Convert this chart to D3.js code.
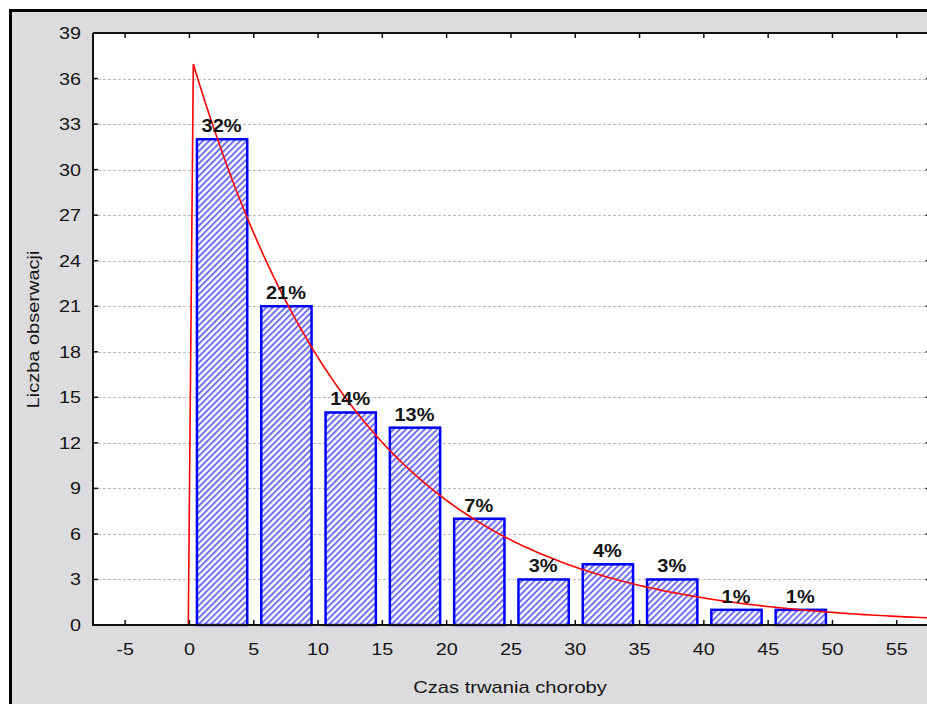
<!DOCTYPE html>
<html>
<head>
<meta charset="utf-8">
<script src="https://cdn.jsdelivr.net/npm/d3@7"></script>
<style>
  html, body { margin: 0; padding: 0; background: #fff; overflow: hidden; }
  svg { display: block; font-family: 'Liberation Sans', Arial, sans-serif; }
</style>
</head>
<body>
<svg id="chart" width="927" height="704"></svg>
<script>
// histogram bins (Czas trwania choroby) and counts
const binStarts = [0, 5, 10, 15, 20, 25, 30, 35, 40, 45];
const binWidth = 5;
const counts = [32, 21, 14, 13, 7, 3, 4, 3, 1, 1];
const percentLabels = ['32%', '21%', '14%', '13%', '7%', '3%', '4%', '3%', '1%', '1%'];
const xTicks = [-5, 0, 5, 10, 15, 20, 25, 30, 35, 40, 45, 50, 55];
const yTicks = [0, 3, 6, 9, 12, 15, 18, 21, 24, 27, 30, 33, 36, 39];
// fitted exponential distribution (rate)
const expLambda = 0.0764;

const svg = d3.select('#chart');

// text is drawn a bit wider than the font, like the original
function addText(g, tx, ty, str, size, sx, anchor, weight) {
  return g.append('text')
    .attr('transform', `translate(${tx},${ty}) scale(${sx},1)`)
    .attr('text-anchor', anchor || 'middle')
    .style('font-size', `${size}px`)
    .style('font-weight', weight || 'normal')
    .attr('fill', '#151515')
    .text(str);
}

// outer frame
svg.append('rect')
  .attr('x', 10.5).attr('y', 10.5)
  .attr('width', 1100).attr('height', 900)
  .attr('fill', '#dcdcde')
  .attr('stroke', '#000')
  .attr('stroke-width', 3);

const plot = { left: 93, top: 33, bottom: 625 };

const x = d3.scaleLinear()
  .domain([-7.5, 57.65])
  .range([plot.left, plot.left + 65.15 * 12.86]);

const y = d3.scaleLinear()
  .domain([0, 39])
  .range([plot.bottom, plot.top]);

const right = x.range()[1];

// plot background
svg.append('rect')
  .attr('x', plot.left).attr('y', plot.top)
  .attr('width', right - plot.left).attr('height', plot.bottom - plot.top)
  .attr('fill', '#fff');

// hatch pattern
const defs = svg.append('defs');
const pat = defs.append('pattern')
  .attr('id', 'hatch')
  .attr('patternUnits', 'userSpaceOnUse')
  .attr('width', 4.4).attr('height', 4.4)
  .attr('patternTransform', 'rotate(45)');
pat.append('rect').attr('width', 4.4).attr('height', 4.4).attr('fill', '#fff');
pat.append('line')
  .attr('x1', 1.1).attr('y1', 0).attr('x2', 1.1).attr('y2', 4.4)
  .attr('stroke', '#6060f4')
  .attr('stroke-width', 1.8);

// gridlines
svg.append('g')
  .selectAll('line')
  .data(yTicks.filter(d => d > 0 && d < 39))
  .enter()
  .append('line')
  .attr('x1', plot.left).attr('x2', right)
  .attr('y1', d => Math.round(y(d)) + 0.5).attr('y2', d => Math.round(y(d)) + 0.5)
  .attr('stroke', '#b9b9b9')
  .attr('stroke-dasharray', '3,2');

// bars
svg.append('g')
  .selectAll('rect')
  .data(counts)
  .enter()
  .append('rect')
  .attr('x', (d, i) => x(binStarts[i]) + 7.5)
  .attr('y', d => y(d))
  .attr('width', (d, i) => x(binStarts[i] + binWidth) - x(binStarts[i]) - 14)
  .attr('height', d => y(0) - y(d))
  .attr('fill', 'url(#hatch)')
  .attr('stroke', '#0000ff')
  .attr('stroke-width', 2.5);

// fitted curve
const total = d3.sum(counts);
const curvePts = d3.range(-7.5, 57.7, 0.39)
  .map(v => [v, v < 0 ? 0 : total * binWidth * expLambda * Math.exp(-expLambda * v)]);
svg.append('path')
  .datum(curvePts)
  .attr('d', d3.line().x(d => x(d[0])).y(d => y(d[1])))
  .attr('fill', 'none')
  .attr('stroke', '#ff0000')
  .attr('stroke-width', 1.6);

// percent labels
const pctG = svg.append('g');
counts.forEach((d, i) => {
  addText(pctG, x(binStarts[i] + binWidth / 2), y(d) - 7, percentLabels[i], 18.5, 1.08, 'middle', 'bold');
});

// axes frame lines
const axisG = svg.append('g').attr('stroke', '#111').attr('stroke-width', 2);
axisG.append('line').attr('x1', plot.left).attr('x2', plot.left).attr('y1', plot.top).attr('y2', plot.bottom + 1);
axisG.append('line').attr('x1', right).attr('x2', right).attr('y1', plot.top).attr('y2', plot.bottom + 1);
axisG.append('line').attr('x1', plot.left).attr('x2', right).attr('y1', plot.top).attr('y2', plot.top);
axisG.append('line').attr('x1', plot.left).attr('x2', right).attr('y1', plot.bottom).attr('y2', plot.bottom);

// inward ticks
const tickG = svg.append('g').attr('stroke', '#111').attr('stroke-width', 1.5);
xTicks.forEach((t) => {
  tickG.append('line').attr('x1', x(t)).attr('x2', x(t)).attr('y1', plot.bottom).attr('y2', plot.bottom - 5);
  tickG.append('line').attr('x1', x(t)).attr('x2', x(t)).attr('y1', plot.top).attr('y2', plot.top + 5);
});
yTicks.forEach((t) => {
  tickG.append('line').attr('x1', plot.left).attr('x2', plot.left + 5).attr('y1', y(t)).attr('y2', y(t));
  tickG.append('line').attr('x1', right - 5).attr('x2', right).attr('y1', y(t)).attr('y2', y(t));
});

// tick labels
const xLabG = svg.append('g');
xTicks.forEach((t) => {
  addText(xLabG, x(t), 655, t, 16.5, 1.2, 'middle');
});
const yLabG = svg.append('g');
yTicks.forEach((t) => {
  addText(yLabG, 81, y(t) + 6, t, 16.5, 1.2, 'end');
});

// axis titles
addText(svg, 510, 693, 'Czas trwania choroby', 16, 1.26, 'middle');

svg.append('text')
  .attr('transform', 'translate(38.5, 329.5) rotate(-90) scale(1.25,1)')
  .attr('text-anchor', 'middle')
  .style('font-size', '16px')
  .attr('fill', '#151515')
  .text('Liczba obserwacji');
</script>
</body>
</html>
